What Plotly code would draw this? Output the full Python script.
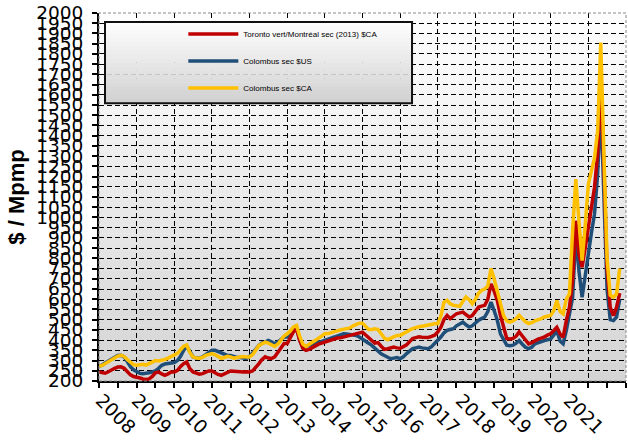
"""Prix mensuels du sirop / grain : Toronto vs Colombus, 2008-2021."""

import pandas as pd
import plotly.graph_objects as go

# ---- data (monthly, Jan 2008 -> Nov 2021) ---------------------------------
START = "2008-01-01"
YEARS = list(range(2008, 2022))

TORONTO_CA = [
    244, 240, 238, 245, 255, 262, 268, 269, 262, 245, 230, 222,   # 2008
    220, 215, 210, 207, 210, 222, 240, 244, 235, 228, 235, 244,   # 2009
    244, 252, 270, 285, 293, 260, 244, 238, 233, 236, 242, 249,   # 2010
    249, 240, 232, 228, 235, 245, 249, 248, 246, 244, 244, 245,   # 2011
    244, 250, 265, 285, 305, 318, 312, 310, 318, 340, 360, 383,   # 2012
    383, 410, 440, 455, 400, 360, 350, 355, 365, 374, 380, 385,   # 2013
    390, 395, 400, 407, 410, 411, 415, 420, 425, 431, 435, 439,   # 2014
    439, 425, 410, 398, 385, 388, 370, 355, 358, 362, 366, 362,   # 2015
    360, 368, 376, 392, 408, 412, 416, 414, 413, 413, 418, 424,   # 2016
    440, 464, 500, 521, 505, 520, 529, 533, 537, 525, 513, 520,   # 2017
    545, 562, 566, 570, 600, 675, 640, 594, 520, 464, 408, 405,   # 2018
    408, 420, 440, 420, 400, 382, 388, 399, 405, 410, 415, 425,   # 2019
    431, 447, 463, 430, 414, 496, 560, 691, 984, 821, 756, 850,   # 2020
    951, 1050, 1147, 1310, 1670, 1250, 750, 560, 520, 560, 630,   # 2021
]

COLOMBUS_US = [
    273, 278, 288, 298, 308, 318, 325, 326, 318, 295, 270, 255,
    245, 238, 236, 236, 240, 244, 250, 262, 277, 283, 285, 287,
    290, 300, 320, 350, 370, 345, 318, 312, 312, 318, 330, 340,
    350, 350, 345, 335, 330, 325, 325, 320, 315, 315, 312, 310,
    320, 335, 355, 375, 385, 390, 398, 392, 382, 390, 405, 415,
    415, 430, 450, 463, 400, 366, 370, 376, 382, 385, 390, 394,
    398, 405, 410, 415, 420, 425, 431, 430, 428, 425, 423, 415,
    406, 395, 385, 374, 360, 345, 333, 325, 318, 309, 312, 315,
    309, 318, 333, 345, 358, 362, 366, 362, 360, 358, 368, 382,
    400, 416, 435, 448, 452, 456, 470, 480, 488, 475, 464, 470,
    485, 497, 505, 513, 540, 586, 545, 497, 430, 399, 375, 372,
    375, 385, 398, 380, 365, 358, 365, 382, 388, 395, 398, 402,
    406, 425, 447, 395, 382, 447, 520, 610, 919, 740, 610, 720,
    837, 930, 1016, 1212, 1560, 1150, 650, 500, 496, 512, 600,
]

COLOMBUS_CA = [
    272, 276, 285, 295, 305, 315, 322, 326, 320, 305, 290, 280,
    277, 279, 282, 278, 285, 295, 300, 298, 300, 305, 312, 320,
    325, 335, 352, 370, 376, 340, 318, 312, 311, 315, 325, 330,
    334, 328, 318, 311, 315, 321, 318, 312, 315, 318, 320, 318,
    318, 330, 350, 374, 382, 390, 385, 375, 369, 380, 400, 420,
    431, 445, 465, 472, 420, 380, 369, 378, 388, 399, 410, 420,
    431, 432, 435, 439, 445, 450, 452, 455, 460, 470, 478, 483,
    483, 465, 452, 452, 455, 452, 430, 410, 402, 410, 418, 423,
    423, 430, 440, 448, 456, 462, 465, 468, 472, 472, 476, 480,
    481, 520, 585, 595, 578, 570, 568, 565, 590, 611, 598, 578,
    600, 630, 643, 650, 665, 750, 700, 643, 570, 520, 494, 488,
    494, 505, 521, 505, 490, 481, 485, 494, 498, 505, 513, 518,
    521, 545, 594, 540, 528, 600, 626, 935, 1187, 984, 789, 960,
    1164, 1230, 1290, 1423, 1855, 1300, 800, 620, 610, 625, 750,
]

SERIES = [
    # (name, values, colour, legend rank)
    ("Colombus sec $US", COLOMBUS_US, "#1F4E79", 2),
    ("Toronto vert/Montréal sec (2013) $CA", TORONTO_CA, "#C00000", 1),
    ("Colombus sec $CA", COLOMBUS_CA, "#FFC000", 3),
]

Y_TITLE = "$ / Mpmp"
FONT = "Liberation Sans, Arial, sans-serif"
TICK_FONT = "DejaVu Sans, sans-serif"

# the year labels in the original sit on a slightly tighter pitch than the
# yearly grid (36 px vs ~37.6 px), so they live on their own overlay axis
LABEL_PITCH = 36.0
PLOT_W = 527


def _mix(c0, c1, t):
    return "rgb({},{},{})".format(*[round(a + (b - a) * t) for a, b in zip(c0, c1)])


def gradient_bands(fig, x0, x1, y0, y1, top, bottom, n=40, layer="below"):
    """Fake a vertical gradient with thin paper-referenced bands."""
    h = (y1 - y0) / n
    for i in range(n):
        t = (i + 0.5) / n
        fig.add_shape(
            type="rect", xref="paper", yref="paper", layer=layer,
            x0=x0, x1=x1, y0=y1 - (i + 1) * h, y1=y1 - i * h + 0.001,
            fillcolor=_mix(top, bottom, t), line_width=0,
        )


dates = pd.date_range(START, periods=len(TORONTO_CA), freq="MS")

fig = go.Figure()
for name, vals, color, rank in SERIES:
    fig.add_trace(go.Scatter(
        x=dates, y=vals, name=name, mode="lines",
        line=dict(color=color, width=3.5),
        legendrank=rank, legendgroup=name,
    ))

# empty carrier trace so the label axis (x2) gets drawn
fig.add_trace(go.Scatter(
    x=YEARS, y=[None] * len(YEARS), xaxis="x2", yaxis="y",
    mode="lines", showlegend=False, hoverinfo="skip",
))

# plot area background: white at the top fading to light grey
gradient_bands(fig, 0, 1, 0, 1, (255, 255, 255), (212, 212, 212))
# dashed grey frame on top/right
fig.add_shape(type="rect", xref="paper", yref="paper", layer="above",
              x0=0, x1=1, y0=0, y1=1,
              line=dict(color="#8a8a8a", width=1, dash="3px,2px"))

# legend box (gradient + black border), drawn over the grid
LX0, LX1, LY0, LY1 = 0.0114, 0.594, 0.755, 0.9755
gradient_bands(fig, LX0, LX1, LY0, LY1, (255, 255, 255), (208, 208, 208),
               n=20, layer="above")
fig.add_shape(type="rect", xref="paper", yref="paper", layer="above",
              x0=LX0, x1=LX1, y0=LY0, y1=LY1,
              line=dict(color="#111111", width=2))

fig.update_layout(
    width=628, height=444,
    margin=dict(l=99, r=2, t=13, b=63),
    paper_bgcolor="white",
    plot_bgcolor="rgba(0,0,0,0)",
    font=dict(family=FONT, color="black"),
    showlegend=True,
    legend=dict(
        x=0.16, y=0.982, xanchor="left", yanchor="top",
        bgcolor="rgba(0,0,0,0)", borderwidth=0,
        font=dict(size=8, family=FONT),
        tracegroupgap=8, itemwidth=50,
    ),
)

fig.update_xaxes(
    type="date", automargin=False,
    range=["2008-01-01", "2022-01-01"],
    tick0="2008-01-01", dtick="M12", showticklabels=False,
    ticks="outside", ticklen=5, tickwidth=1.5, tickcolor="black",
    minor=dict(dtick="M6", ticks="outside", ticklen=5, tickwidth=1.5,
               tickcolor="black", showgrid=False),
    showline=True, linecolor="black", linewidth=2,
    showgrid=True, gridcolor="black", gridwidth=1, griddash="5px,3px",
    zeroline=False,
)

lab0 = YEARS[0] - 2.0 / LABEL_PITCH
fig.update_layout(xaxis2=dict(
    overlaying="x", anchor="y", side="bottom", automargin=False,
    type="linear",
    range=[lab0, lab0 + PLOT_W / LABEL_PITCH],
    tickvals=YEARS, ticktext=[str(y) for y in YEARS],
    tickangle=45, tickfont=dict(size=18.5, family=TICK_FONT),
    ticks="", ticklabelstandoff=4,
    showline=False, showgrid=False, zeroline=False,
))

fig.update_yaxes(
    automargin=False,
    range=[200, 2000], dtick=50, tick0=200,
    tickfont=dict(size=18.5, family=TICK_FONT), ticklabelstandoff=5,
    ticks="outside", ticklen=5, tickwidth=1.5, tickcolor="black",
    showline=True, linecolor="black", linewidth=2,
    showgrid=True, gridcolor="black", gridwidth=1, griddash="5px,3px",
    zeroline=False,
    title=dict(text=Y_TITLE, font=dict(size=22, family=FONT, weight="bold"),
               standoff=6),
)

# drop the page's default 8px body margin so the 628x444 figure fits the window
fig.write_html("out.html", config={"displayModeBar": False},
               post_script="document.body.style.margin = '0';")
